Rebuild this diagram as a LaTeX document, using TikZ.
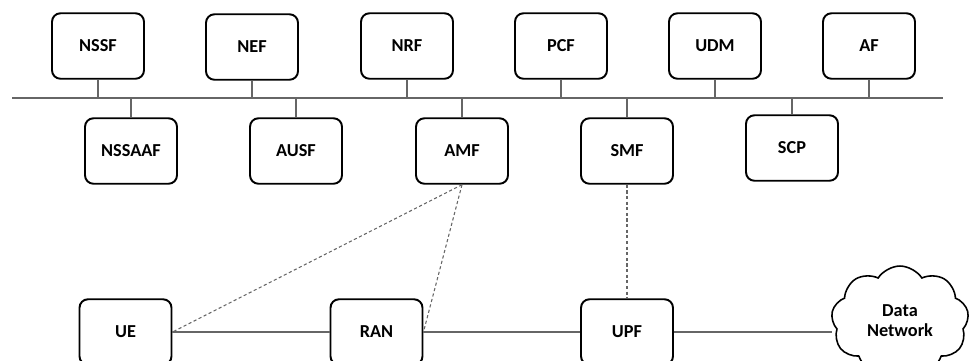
\documentclass[tikz,border=0pt]{standalone}
\usepackage{fontspec}
\setmainfont{Carlito}
\usetikzlibrary{shapes.symbols}

\tikzset{
  nfbox/.style={draw, black, line width=1.1pt, rounded corners=0.17cm, minimum width=1.84cm, minimum height=1.31cm, inner sep=0pt, font=\fontsize{10.4}{11.5}\selectfont\bfseries},
  bus/.style={gray!80!black, line width=0.8pt},
  ctrl/.style={gray!80!black, line width=0.6pt, dash pattern=on 1.8pt off 1.4pt}
}

\begin{document}
\begin{tikzpicture}[x=0.02cm, y=-0.02cm]
\useasboundingbox (0,0) rectangle (971,360);

% upper row of functions
\node[nfbox] (nssf) at (98, 46) {NSSF};
\node[nfbox] (nef) at (252, 47) {NEF};
\node[nfbox] (nrf) at (407, 46) {NRF};
\node[nfbox] (pcf) at (561, 46) {PCF};
\node[nfbox] (udm) at (715, 46) {UDM};
\node[nfbox] (af) at (869, 46) {AF};

% lower row of functions
\node[nfbox] (nssaaf) at (131, 151) {NSSAAF};
\node[nfbox] (ausf) at (296, 151) {AUSF};
\node[nfbox] (amf) at (462, 151) {AMF};
\node[nfbox] (smf) at (627, 151) {SMF};
\node[nfbox] (scp) at (792, 148) {SCP};

% service bus
\coordinate (busL) at (12, 98);
\coordinate (busR) at (943, 98);
\draw[bus] (busL) -- (busR);

\foreach \nf in {nssf, nef, nrf, pcf, udm, af}
  \draw[bus] (\nf.south) -- (\nf.south |- busL);
\foreach \nf in {nssaaf, ausf, amf, smf, scp}
  \draw[bus] (\nf.north) -- (\nf.north |- busL);

% user plane
\node[nfbox] (ue) at (125.5, 332) {UE};
\node[nfbox] (ran) at (376.5, 332) {RAN};
\node[nfbox] (upf) at (627, 332) {UPF};
\node[cloud, draw, black, line width=0.9pt, cloud puffs=9, cloud puff arc=115, aspect=1.3, minimum width=2.75cm, minimum height=2.2cm, inner sep=0pt, align=center, font=\fontsize{10.4}{11.5}\selectfont\bfseries] (dn) at (900, 321) {Data\\Network};

\draw[bus] (ue.east) -- (ran.west);
\draw[bus] (ran.east) -- (upf.west);
\draw[bus] (upf.east) -- (upf.east -| dn.west);

\draw[ctrl] (amf.south) -- (ue.east);
\draw[ctrl] (amf.south) -- (ran.east);
\draw[ctrl] (smf.south) -- (upf.north);

\end{tikzpicture}
\end{document}
